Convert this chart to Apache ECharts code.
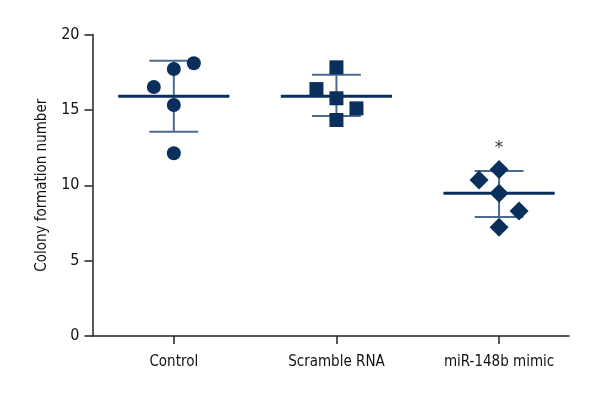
<!DOCTYPE html>
<html>
<head>
<meta charset="utf-8">
<script src="https://cdn.jsdelivr.net/npm/echarts@6/dist/echarts.min.js"></script>
<style>html,body{margin:0;padding:0;background:#fff}#c{width:600px;height:400px}</style>
</head>
<body>
<div id="c"></div>
<script>
const categories = ['Control', 'Scramble RNA', 'miR-148b mimic'];
const yTicks = [0, 5, 10, 15, 20];
const controlValues = [16.52, 17.71, 18.09, 15.32, 12.12];
const controlJitter = [-1, 0, 1, 0, 0];
const scrambleValues = [17.82, 16.38, 15.77, 15.10, 14.33];
const scrambleJitter = [0, -1, 0, 1, 0];
const mimicValues = [11.05, 10.35, 9.47, 8.29, 7.21];
const mimicJitter = [0, -1, 0, 1, 0];
const groupMeans = [15.90, 15.90, 9.47];
const groupSdUpper = [18.26, 17.33, 10.95];
const groupSdLower = [13.55, 14.59, 7.89];
const significance = ['', '', '*'];
const significanceY = [0, 0, 12.45];

const FONT = "'Liberation Sans Narrow','DejaVu Sans Condensed','Roboto Condensed',sans-serif";
const NAVY = '#0a2f5c';
const BAR = '#4a6a90';
const JIT = 0.123;

function pts(vals, jit, idx) {
  return vals.map((v, i) => [idx + jit[i] * JIT, v]);
}

const summaryData = groupMeans.map((m, i) => [i, m, groupSdLower[i], groupSdUpper[i]]);

const chart = echarts.init(document.getElementById('c'), null, {renderer: 'canvas'});
chart.setOption({
  animation: false,
  backgroundColor: '#fff',
  grid: {left: 92.5, right: 31, top: 34.5, bottom: 64},
  xAxis: {
    type: 'value', min: -0.5, max: 2.43,
    splitLine: {show: false},
    axisLine: {show: true, onZero: false, lineStyle: {color: '#222', width: 1.5}},
    axisTick: {show: true, length: 8, customValues: [0, 1, 2], lineStyle: {color: '#222', width: 1.5}},
    axisLabel: {customValues: [0, 1, 2], formatter: v => categories[Math.round(v)] || '',
      margin: 19, fontFamily: FONT, fontSize: 15, color: '#111'}
  },
  yAxis: {
    type: 'value', min: 0, max: 20, interval: 5,
    name: 'Colony formation number', nameLocation: 'middle', nameGap: 43,
    nameTextStyle: {fontFamily: FONT, fontSize: 15, color: '#111'},
    splitLine: {show: false},
    axisLine: {show: true, onZero: false, lineStyle: {color: '#222', width: 1.5}},
    axisTick: {show: true, length: 8, lineStyle: {color: '#222', width: 1.5}},
    axisLabel: {margin: 13, fontFamily: FONT, fontSize: 16, color: '#111',
      formatter: v => yTicks.includes(v) ? String(v) : ''}
  },
  series: [
    {
      type: 'custom', name: 'summary', z: 1,
      data: summaryData,
      renderItem: function (params, api) {
        const x = api.value(0), m = api.value(1), lo = api.value(2), hi = api.value(3);
        const pm1 = api.coord([x - 0.342, m]), pm2 = api.coord([x + 0.342, m]);
        const ph = api.coord([x, hi]), pl = api.coord([x, lo]);
        const capW = 0.15;
        const ph1 = api.coord([x - capW, hi]), ph2 = api.coord([x + capW, hi]);
        const pl1 = api.coord([x - capW, lo]), pl2 = api.coord([x + capW, lo]);
        const barStyle = {stroke: BAR, lineWidth: 2};
        return {type: 'group', children: [
          {type: 'line', shape: {x1: ph[0], y1: ph[1], x2: pl[0], y2: pl[1]}, style: barStyle},
          {type: 'line', shape: {x1: ph1[0], y1: ph1[1], x2: ph2[0], y2: ph2[1]}, style: barStyle},
          {type: 'line', shape: {x1: pl1[0], y1: pl1[1], x2: pl2[0], y2: pl2[1]}, style: barStyle},
          {type: 'line', shape: {x1: pm1[0], y1: pm1[1], x2: pm2[0], y2: pm2[1]}, style: {stroke: NAVY, lineWidth: 3}}
        ]};
      }
    },
    {type: 'scatter', name: categories[0], symbol: 'circle', symbolSize: 14, z: 3,
      itemStyle: {color: NAVY, opacity: 1}, data: pts(controlValues, controlJitter, 0)},
    {type: 'scatter', name: categories[1], symbol: 'rect', symbolSize: 14, z: 3,
      itemStyle: {color: NAVY, opacity: 1}, data: pts(scrambleValues, scrambleJitter, 1)},
    {type: 'scatter', name: categories[2], symbol: 'diamond', symbolSize: 19, z: 3,
      itemStyle: {color: NAVY, opacity: 1}, data: pts(mimicValues, mimicJitter, 2)},
    {type: 'scatter', name: 'sig', symbolSize: 0, z: 4, silent: true,
      data: significance.map((s, i) => s ? {value: [i, significanceY[i]], label: {formatter: s}} : null).filter(Boolean),
      label: {show: true, position: 'inside', fontFamily: 'DejaVu Sans', fontSize: 17, color: '#000'}}
  ]
});
</script>
</body>
</html>
